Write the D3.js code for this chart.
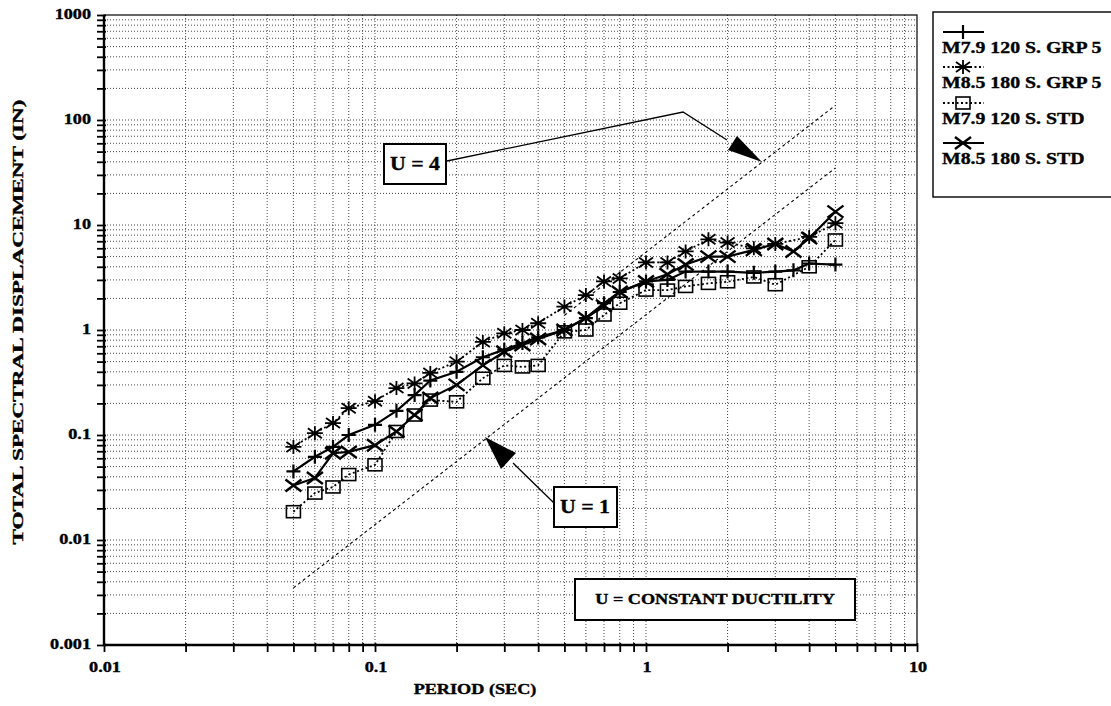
<!DOCTYPE html>
<html><head><meta charset="utf-8">
<script src="https://cdn.jsdelivr.net/npm/d3@7"></script>
<style>body{margin:0;background:#fff}svg{display:block}</style></head>
<body><svg id="c" width="1111" height="706"></svg>
<script>
// ---- data ----
const periods = [0.05,0.06,0.07,0.08,0.1,0.12,0.14,0.16,0.2,0.25,0.3,0.35,0.4,0.5,0.6,0.7,0.8,1.0,1.2,1.4,1.7,2.0,2.5,3.0,3.5,4.0,5.0];
const m79grp5 = [0.045,0.062,0.077,0.10,0.125,0.17,0.24,0.33,0.40,0.55,0.65,0.75,0.85,1.0,1.3,1.8,2.3,2.9,3.0,3.6,3.6,3.6,3.5,3.6,3.7,4.3,4.2];
const m85grp5 = [0.077,0.104,0.13,0.18,0.21,0.28,0.31,0.39,0.50,0.77,0.93,1.0,1.16,1.67,2.15,2.9,3.1,4.4,4.4,5.6,7.3,6.8,6.0,6.6,null,7.7,10.4];
const m79std  = [0.0186,0.028,0.032,0.042,0.052,0.108,0.155,0.215,0.207,0.347,0.46,0.445,0.46,0.96,1.0,1.39,1.8,2.4,2.4,2.6,2.78,2.88,3.2,2.7,null,4.0,7.2];
const m85std  = [0.033,0.039,0.067,0.069,0.08,0.108,0.155,0.225,0.30,0.46,0.62,0.72,0.82,1.0,1.3,1.7,2.3,2.9,3.4,4.2,5.0,5.0,5.8,6.6,5.6,7.5,13.4];
const seriesNames = ["M7.9 120 S. GRP 5","M8.5 180 S. GRP 5","M7.9 120 S. STD","M8.5 180 S. STD"];
const xTickLabels = ["0.01","0.1","1","10"];
const yTickLabels = ["0.001","0.01","0.1","1","10","100","1000"];
// constant-ductility reference lines (period, displacement)
const u1Periods = [0.05, 5];
const u1Values  = [0.0035, 35];
const u4Periods = [0.5, 5];
const u4Values  = [1.38, 138];
const xTitle = "PERIOD (SEC)";
const yTitle = "TOTAL SPECTRAL DISPLACEMENT (IN)";
const noteText = "U = CONSTANT DUCTILITY";

// ---- drawing ----
const svg = d3.select("#c");
const L=104,R=917,T=15,B=645;
const x = d3.scaleLog().domain([0.01,10]).range([L,R]);
const y = d3.scaleLog().domain([0.001,1000]).range([B,T]);
const FONT = "'Liberation Serif','Times New Roman',serif";

function txt(g,px,py,s,size,anchor,sx,rot){
  return g.append("text")
    .attr("transform",`translate(${px},${py})`+(rot?` rotate(${rot})`:"")+` scale(${sx||1},1)`)
    .attr("font-family",FONT).attr("font-weight","bold").attr("font-size",size)
    .attr("text-anchor",anchor||"start").attr("dominant-baseline","central")
    .attr("fill","#000").attr("stroke","#000").attr("stroke-width",0.35).text(s);
}

// grid values
const xs=[],ys=[];
for(let d=-2;d<1;d++) for(let k=1;k<10;k++) xs.push(k*Math.pow(10,d));
xs.push(10);
for(let d=-3;d<3;d++) for(let k=1;k<10;k++) ys.push(k*Math.pow(10,d));
ys.push(1000);

const grid = svg.append("g").attr("stroke","#000").attr("stroke-width",1).attr("stroke-dasharray","1,2").attr("opacity",0.7);
grid.selectAll("line.v").data(xs.filter(v=>v>0.0101&&v<9.9)).join("line").attr("class","v")
  .attr("x1",d=>x(d)).attr("x2",d=>x(d)).attr("y1",T).attr("y2",B);
grid.selectAll("line.h").data(ys.filter(v=>v>0.00101&&v<990)).join("line").attr("class","h")
  .attr("y1",d=>y(d)).attr("y2",d=>y(d)).attr("x1",L).attr("x2",R);

// frame
svg.append("rect").attr("x",L).attr("y",T).attr("width",R-L).attr("height",B-T)
  .attr("fill","none").attr("stroke","#000").attr("stroke-width",1.2);
svg.append("line").attr("x1",L).attr("x2",L).attr("y1",T).attr("y2",B).attr("stroke","#000").attr("stroke-width",2.4);
svg.append("line").attr("x1",L).attr("x2",R).attr("y1",B).attr("y2",B).attr("stroke","#000").attr("stroke-width",2.4);

// axes
const ay = svg.append("g").attr("transform",`translate(${L},0)`)
  .call(d3.axisLeft(y).tickValues(ys).tickSize(7).tickFormat(""));
ay.selectAll(".tick line").attr("stroke-width",1.8).attr("x1",2);
ay.select(".domain").remove();
const ax = svg.append("g").attr("transform",`translate(0,${B})`)
  .call(d3.axisBottom(x).tickValues(xs).tickSize(7).tickFormat(""));
ax.selectAll(".tick line").attr("stroke-width",1.8).attr("y1",-2);
ax.select(".domain").remove();

const ytv=[0.001,0.01,0.1,1,10,100,1000];
ytv.forEach((v,i)=>txt(svg,91,y(v),yTickLabels[i],14,"end",1.3));
const xtv=[0.01,0.1,1,10];
xtv.forEach((v,i)=>txt(svg,x(v)+1,668,xTickLabels[i],14,"middle",1.3));

txt(svg,475,690,xTitle,14,"middle",1.3);
txt(svg,18,322,yTitle,14.5,"middle",1.6,-90);

// reference lines
const refLine = d3.line().x(d=>x(d[0])).y(d=>y(d[1]));
[[u1Periods,u1Values],[u4Periods,u4Values]].forEach(([ps,vs])=>{
  svg.append("path").attr("d",refLine(ps.map((p,i)=>[p,vs[i]])))
    .attr("fill","none").attr("stroke","#000").attr("stroke-width",1.1).attr("stroke-dasharray","3,3");
});

// markers
function marker(g,type,cx,cy){
  const p = g.append("path").attr("stroke","#000").attr("fill","none");
  if(type==="plus"){
    p.attr("d",`M${cx-7},${cy}H${cx+7}M${cx},${cy-7}V${cy+7}`).attr("stroke-width",2.2);
  } else if(type==="star"){
    p.attr("d",`M${cx-8},${cy}H${cx+8}M${cx},${cy-7}V${cy+7}M${cx-7},${cy-5}L${cx+7},${cy+5}M${cx-7},${cy+5}L${cx+7},${cy-5}`).attr("stroke-width",1.8);
  } else if(type==="square"){
    g.append("rect").attr("x",cx-7).attr("y",cy-6).attr("width",14).attr("height",12).attr("fill","none").attr("stroke","#000").attr("stroke-width",1.6);
    p.remove();
  } else if(type==="x"){
    p.attr("d",`M${cx-8},${cy-6}L${cx+8},${cy+6}M${cx-8},${cy+6}L${cx+8},${cy-6}`).attr("stroke-width",2.4);
  }
}
const series = [
  {vals:m79grp5, type:"plus", dash:null, w:2.2},
  {vals:m85grp5, type:"star", dash:"2,2.5", w:1.8},
  {vals:m79std, type:"square", dash:"2,2.5", w:1.8},
  {vals:m85std, type:"x", dash:null, w:2.2}
];
const ln = d3.line().x(d=>x(d[0])).y(d=>y(d[1]));
series.forEach(s=>{
  const pts = periods.map((p,i)=>[p,s.vals[i]]).filter(d=>d[1]!=null);
  const g = svg.append("g");
  g.append("path").attr("d",ln(pts)).attr("fill","none").attr("stroke","#000")
    .attr("stroke-width",s.w).attr("stroke-dasharray",s.dash);
  pts.forEach(d=>marker(g,s.type,x(d[0]),y(d[1])));
});

// annotations
function box(x0,y0,w,h){
  svg.append("rect").attr("x",x0).attr("y",y0).attr("width",w).attr("height",h)
    .attr("fill","#fff").attr("stroke","#000").attr("stroke-width",2);
}
svg.append("polyline").attr("points","447,161 683,112 727,140")
  .attr("fill","none").attr("stroke","#000").attr("stroke-width",1.3);
svg.append("path").attr("d","M737,136 L728,150 L762,162 Z").attr("fill","#000");
box(384,144,62,40);
txt(svg,415,164,"U = 4",19,"middle",1.15);
svg.append("polyline").attr("points","554,503 513,463")
  .attr("fill","none").attr("stroke","#000").attr("stroke-width",1.3);
svg.append("path").attr("d","M501,469 L516,453 L485,437 Z").attr("fill","#000");
box(554,487,63,40);
txt(svg,585,507,"U = 1",19,"middle",1.15);
box(575,579,280,41);
txt(svg,715,600,noteText,14,"middle",1.3);

// legend
const lg = svg.append("g");
lg.append("rect").attr("x",933).attr("y",12).attr("width",190).attr("height",185)
  .attr("fill","#fff").attr("stroke","#000").attr("stroke-width",1.4);
const lgY=[32,67,103,143];
series.forEach((s,i)=>{
  lg.append("line").attr("x1",943).attr("x2",984).attr("y1",lgY[i]).attr("y2",lgY[i])
    .attr("stroke","#000").attr("stroke-width",s.w).attr("stroke-dasharray",s.dash);
  marker(lg,s.type,963,lgY[i]);
  txt(lg,942,lgY[i]+16,seriesNames[i],16.5,"start",1.2);
});
</script></body></html>
